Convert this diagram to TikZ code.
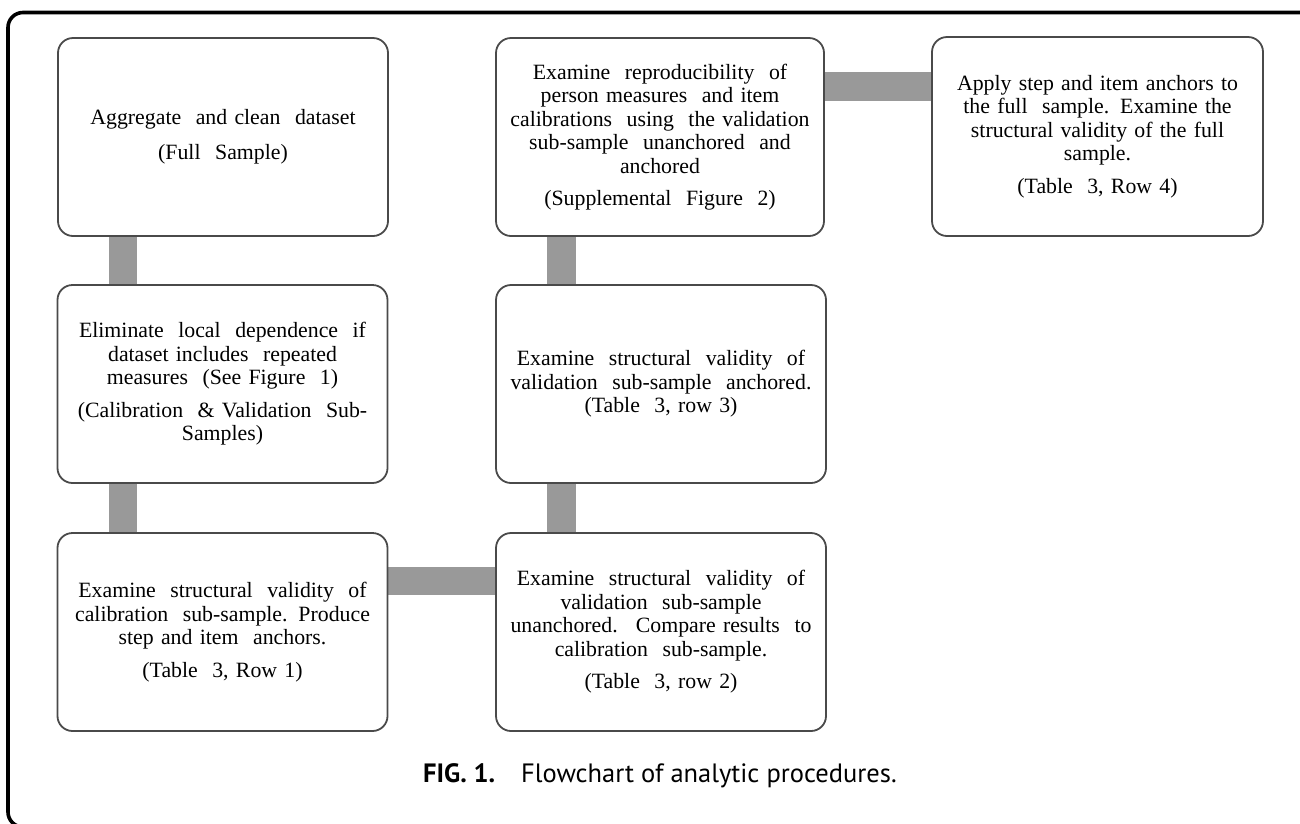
\documentclass[tikz,border=0pt]{standalone}
\usepackage{fontspec}
\setmainfont{Liberation Serif}
\newfontfamily\capfont{PT Sans}
\usetikzlibrary{calc,backgrounds}
\definecolor{barcol}{HTML}{999999}
\definecolor{boxline}{HTML}{4A4A4A}
\tikzset{
  box/.style={draw=boxline, line width=1.8pt, rounded corners=15pt, fill=white,
    minimum width=330pt, minimum height=198pt, inner sep=0pt, text width=316pt,
    align=center, font=\fontsize{21.8}{23.5}\selectfont},
  bar/.style={draw=barcol, line width=28.5pt},
  frameline/.style={draw=black, line width=3.6pt, rounded corners=15pt}
}
\begin{document}
\begin{tikzpicture}[x=1pt,y=-1pt]
\useasboundingbox (0,0) rectangle (1300,823);
\begin{scope}
\clip (0,0) rectangle (1300,823);
\draw[frameline] (1320,12.5) -- (8,12.5) -- (8,827) -- (40,827);
\end{scope}
\coordinate (ab1) at (123,236); \coordinate (ab2) at (123,285);
\coordinate (bc1) at (123,483); \coordinate (bc2) at (123,533);
\coordinate (cd1) at (388,581); \coordinate (cd2) at (496,581);
\coordinate (de1) at (561.5,533); \coordinate (de2) at (561.5,483);
\coordinate (ef1) at (561.5,285); \coordinate (ef2) at (561.5,237);
\coordinate (fg1) at (824,86.5); \coordinate (fg2) at (932,86.5);
\node[box] (A) at (223,137) {Aggregate \ and clean \ dataset\\[11pt](Full \ Sample)};
\node[box] (B) at (222.5,384) {Eliminate \ local \ dependence \ if\\ dataset includes \ repeated\\ measures \ (See Figure \ 1)\\[9pt](Calibration \ \& Validation \ Sub-\\Samples)};
\node[box] (C) at (222.5,632) {Examine \ structural \ validity \ of\\ calibration \ sub-sample. Produce\\ step and item \ anchors.\\[9pt](Table \ 3, Row 1)};
\node[box] (D) at (661,632) {Examine \ structural \ validity \ of\\ validation \ sub-sample\\ unanchored. \ Compare results \ to\\ calibration \ sub-sample.\\[9pt](Table \ 3, row 2)};
\node[box] (E) at (661,384) {Examine \ structural \ validity \ of\\ validation \ sub-sample \ anchored.\\ (Table \ 3, row 3)};
\node[box, minimum width=328pt] (F) at (660,137) {Examine \ reproducibility \ of\\ person measures \ and item\\ calibrations \ using \ the validation\\ sub-sample \ unanchored \ and\\ anchored\\[9pt](Supplemental \ Figure \ 2)};
\node[box, minimum width=331pt, minimum height=199pt] (G) at (1097.5,136.5) {Apply step and item anchors to\\ the full \ sample. Examine the\\ structural validity of the full\\ sample.\\[9pt](Table \ 3, Row 4)};
\begin{scope}[on background layer]
\draw[bar] (A.south -| ab1) -- (B.north -| ab2);
\draw[bar] (B.south -| bc1) -- (C.north -| bc2);
\draw[bar] (C.east |- cd1) -- (D.west |- cd2);
\draw[bar] (D.north -| de1) -- (E.south -| de2);
\draw[bar] (E.north -| ef1) -- (F.south -| ef2);
\draw[bar] (F.east |- fg1) -- (G.west |- fg2);
\end{scope}
\node[anchor=base west, inner sep=0pt, font=\capfont\fontsize{26.5}{30}\selectfont] (cap) at (423,782)
  {\textbf{FIG. 1.}\hspace{26pt}Flowchart of analytic procedures.};
\end{tikzpicture}
\end{document}
